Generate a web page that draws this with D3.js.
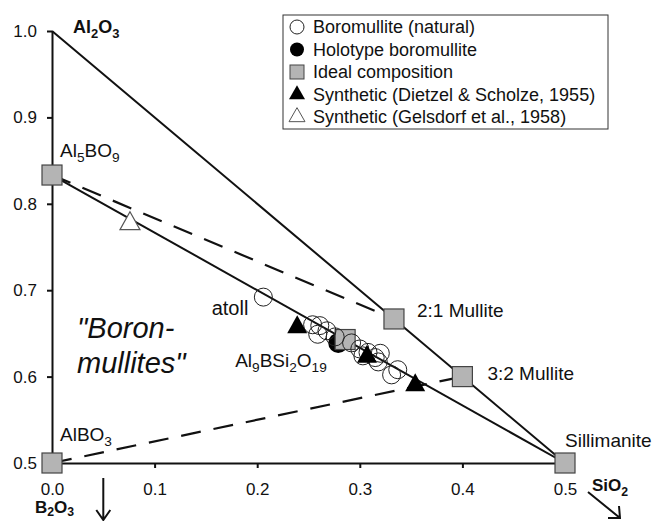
<!DOCTYPE html>
<html lang="en">
<head>
  <meta charset="UTF-8">
  <title>Boromullite compositions</title>
  <style>
    body { margin: 0; background: #fff; }
    svg { display: block; font-family: "Liberation Sans", Arial, sans-serif; }
    .axis text { font-size: 17px; fill: #111; }
    .axis path, .axis line { stroke: #111; stroke-width: 2; }
  </style>
  <script src="https://d3js.org/d3.v7.min.js"></script>
</head>
<body>
  <div id="chart"></div>
  <script>
  // ideal compositions (mole fractions)
  const idealNames   = ['AlBO3', 'Al5BO9', '2:1 Mullite', '3:2 Mullite', 'Sillimanite', 'Al9BSi2O19'];
  const idealSiO2    = [0, 0, 0.3333, 0.4, 0.5, 0.2857];
  const idealAl2O3   = [0.5, 0.8333, 0.6667, 0.6, 0.5, 0.6429];

  // natural boromullite analyses (first one = atoll)
  const naturalSiO2  = [0.206, 0.254, 0.261, 0.259, 0.268, 0.276, 0.292, 0.300, 0.308, 0.303, 0.315, 0.318, 0.320, 0.331, 0.337];
  const naturalAl2O3 = [0.692, 0.660, 0.659, 0.649, 0.653, 0.646, 0.639, 0.632, 0.628, 0.624, 0.622, 0.617, 0.627, 0.602, 0.608];

  const holotypeSiO2  = [0.279];
  const holotypeAl2O3 = [0.639];

  const dietzelSiO2  = [0.239, 0.307, 0.354];
  const dietzelAl2O3 = [0.657, 0.623, 0.590];

  const gelsdorfSiO2  = [0.076];
  const gelsdorfAl2O3 = [0.777];

  const xTicks = [0, 0.1, 0.2, 0.3, 0.4, 0.5];
  const yTicks = [0.5, 0.6, 0.7, 0.8, 0.9, 1.0];

  const legendLabels = [
    'Boromullite (natural)',
    'Holotype boromullite',
    'Ideal composition',
    'Synthetic (Dietzel & Scholze, 1955)',
    'Synthetic (Gelsdorf et al., 1958)'
  ];

  const W = 659, H = 521;
  const x = d3.scaleLinear().domain([0, 0.5]).range([52, 565]);
  const y = d3.scaleLinear().domain([0.5, 1.0]).range([463, 31]);

  const svg = d3.select('#chart').append('svg')
    .attr('width', W).attr('height', H);

  // digits in a formula become subscripts
  function formula(sel, str, size, drop = 0.28) {
    const parts = str.match(/(\d+|[^\d]+)/g);
    let low = false;
    parts.forEach(p => {
      const isNum = /^\d+$/.test(p);
      const t = sel.append('tspan').text(p);
      if (isNum) {
        t.attr('font-size', size * 0.72).attr('dy', low ? 0 : size * drop);
        low = true;
      } else if (low) {
        t.attr('dy', -size * drop);
        low = false;
      }
    });
  }

  const ideal = idealNames.map((n, i) => ({ name: n, sx: idealSiO2[i], sy: idealAl2O3[i] }));
  const byName = Object.fromEntries(ideal.map(d => [d.name, [d.sx, d.sy]]));

  // axes
  svg.append('g').attr('class', 'axis')
    .attr('transform', `translate(0,${y(0.5)})`)
    .call(d3.axisBottom(x).tickValues(xTicks).tickSize(5).tickSizeOuter(0)
      .tickPadding(15).tickFormat(d3.format('.1f')));
  svg.append('g').attr('class', 'axis')
    .attr('transform', `translate(${x(0)},0)`)
    .call(d3.axisLeft(y).tickValues(yTicks).tickSize(5).tickSizeOuter(0)
      .tickPadding(10).tickFormat(d3.format('.1f')));

  // tie lines
  const solid = [[[0, 1.0], byName['Sillimanite']], [byName['Al5BO9'], byName['Sillimanite']]];
  const dashed = [[byName['Al5BO9'], byName['2:1 Mullite']], [byName['AlBO3'], byName['3:2 Mullite']]];
  const line = d3.line().x(d => x(d[0])).y(d => y(d[1]));
  svg.selectAll('path.solid').data(solid).join('path').attr('class', 'solid')
    .attr('d', line).attr('stroke', '#111').attr('stroke-width', 2).attr('fill', 'none');
  svg.selectAll('path.dash').data(dashed).join('path').attr('class', 'dash')
    .attr('d', line).attr('stroke', '#111').attr('stroke-width', 2.2).attr('fill', 'none')
    .attr('stroke-dasharray', '20,13');

  function tri(s, h) {
    return `M0,${-h * 2 / 3}L${s / 2},${h / 3}L${-s / 2},${h / 3}Z`;
  }

  // Gelsdorf open triangle
  svg.selectAll('path.gel').data(gelsdorfSiO2).join('path').attr('class', 'gel')
    .attr('transform', (d, i) => `translate(${x(d)},${y(gelsdorfAl2O3[i])})`)
    .attr('d', tri(20, 18)).attr('fill', '#fff').attr('stroke', '#555').attr('stroke-width', 1.2);

  // holotype
  svg.selectAll('circle.holo').data(holotypeSiO2).join('circle').attr('class', 'holo')
    .attr('cx', d => x(d)).attr('cy', (d, i) => y(holotypeAl2O3[i])).attr('r', 10)
    .attr('fill', '#000');

  // ideal squares
  svg.selectAll('rect.ideal').data(ideal).join('rect').attr('class', 'ideal')
    .attr('x', d => x(d.sx) - 10).attr('y', d => y(d.sy) - 10)
    .attr('width', 20).attr('height', 20)
    .attr('fill', '#b4b4b4').attr('stroke', '#444').attr('stroke-width', 1.2);

  // natural
  svg.selectAll('circle.nat').data(naturalSiO2).join('circle').attr('class', 'nat')
    .attr('cx', d => x(d)).attr('cy', (d, i) => y(naturalAl2O3[i])).attr('r', 9)
    .attr('fill', 'none').attr('stroke', '#222').attr('stroke-width', 1);

  // Dietzel & Scholze
  svg.selectAll('path.dz').data(dietzelSiO2).join('path').attr('class', 'dz')
    .attr('transform', (d, i) => `translate(${x(d)},${y(dietzelAl2O3[i])})`)
    .attr('d', tri(20, 18)).attr('fill', '#000');

  // composition labels
  const labelOff = {
    'AlBO3': [8, -22], 'Al5BO9': [8, -18], '2:1 Mullite': [23, -2],
    '3:2 Mullite': [25, 3], 'Sillimanite': [0, -16], 'Al9BSi2O19': [-110, 27]
  };
  ideal.forEach(d => {
    const o = labelOff[d.name];
    const t = svg.append('text').attr('x', x(d.sx) + o[0]).attr('y', y(d.sy) + o[1])
      .attr('font-size', 19).attr('fill', '#111');
    if (/:|Sill/.test(d.name)) t.text(d.name); else formula(t, d.name, 19);
  });
  svg.append('text').attr('x', x(naturalSiO2[0]) - 15).attr('y', y(naturalAl2O3[0]) + 18)
    .attr('text-anchor', 'end').attr('font-size', 20).attr('fill', '#111').text('atoll');

  // field label
  const field = svg.append('text').attr('font-size', 29).attr('font-style', 'italic').attr('fill', '#111');
  field.append('tspan').attr('x', 77).attr('y', 338).text('"Boron-');
  field.append('tspan').attr('x', 77).attr('y', 373).text('mullites"');

  // component labels
  const al = svg.append('text').attr('x', x(0) + 21).attr('y', y(1.0) + 2)
    .attr('font-size', 18).attr('font-weight', 'bold').attr('fill', '#111');
  formula(al, 'Al2O3', 18);
  const bo = svg.append('text').attr('x', x(0) - 17).attr('y', y(0.5) + 50)
    .attr('font-size', 17).attr('font-weight', 'bold').attr('fill', '#111');
  formula(bo, 'B2O3', 17, 0.2);
  const si = svg.append('text').attr('x', x(0.5) + 27).attr('y', y(0.5) + 28)
    .attr('font-size', 17).attr('font-weight', 'bold').attr('fill', '#111');
  formula(si, 'SiO2', 17);

  // arrows
  const ax = x(0.05);
  svg.append('path')
    .attr('d', `M${ax},${y(0.5) + 15}V${y(0.5) + 57}M${ax - 7},${y(0.5) + 47}L${ax},${y(0.5) + 57}L${ax + 7},${y(0.5) + 47}`)
    .attr('stroke', '#111').attr('stroke-width', 2).attr('fill', 'none');
  const sx0 = x(0.5) + 23, sy0 = y(0.5) + 29;
  svg.append('path')
    .attr('d', `M${sx0},${sy0}L${sx0 + 32},${sy0 + 26}M${sx0 + 20},${sy0 + 26}L${sx0 + 32},${sy0 + 26}L${sx0 + 31},${sy0 + 14}`)
    .attr('stroke', '#111').attr('stroke-width', 2).attr('fill', 'none');

  // legend
  const lg = svg.append('g').attr('transform', 'translate(283,15)');
  lg.append('rect').attr('width', 325).attr('height', 114)
    .attr('fill', '#fff').attr('stroke', '#333').attr('stroke-width', 1);
  const rows = lg.selectAll('g.row').data(legendLabels).join('g').attr('class', 'row')
    .attr('transform', (d, i) => `translate(14,${12 + i * 22.5})`);
  rows.append('text').attr('x', 16).attr('dy', '0.35em')
    .attr('font-size', 18).attr('fill', '#111').text(d => d);
  rows.each(function(d, i) {
    const g = d3.select(this);
    if (i === 0) g.append('circle').attr('r', 7).attr('fill', '#fff').attr('stroke', '#222');
    if (i === 1) g.append('circle').attr('r', 7).attr('fill', '#000');
    if (i === 2) g.append('rect').attr('x', -7).attr('y', -7).attr('width', 14).attr('height', 14)
      .attr('fill', '#b4b4b4').attr('stroke', '#444');
    if (i === 3) g.append('path').attr('d', tri(16, 14)).attr('fill', '#000');
    if (i === 4) g.append('path').attr('d', tri(16, 14)).attr('fill', '#fff').attr('stroke', '#555');
  });
  </script>
</body>
</html>
